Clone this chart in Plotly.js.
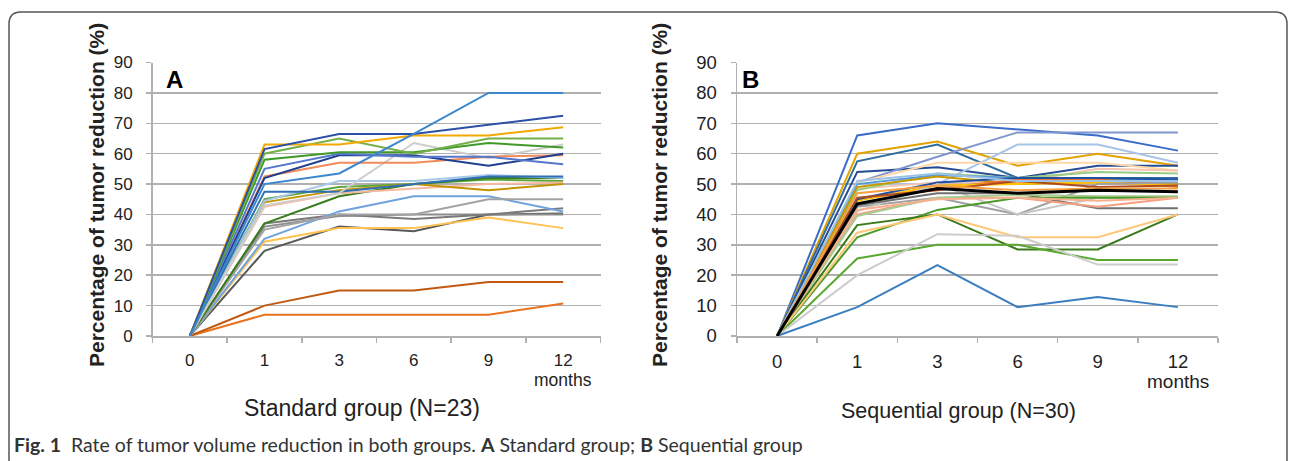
<!DOCTYPE html>
<html>
<head>
<meta charset="utf-8">
<script src="https://cdn.plot.ly/plotly-3.0.1.min.js"></script>
<style>
  html, body { margin: 0; padding: 0; background: #fff; }
  #chart { width: 1293px; height: 461px; }
</style>
</head>
<body>
<div id="chart"></div>
<script>
// ---- Data ----
const months = ['0', '1', '3', '6', '9', '12'];

// Standard group (N=23), % tumor reduction at 0,1,3,6,9,12 months
const stdA01 = [0, 50, 53.5, 66.5, 80, 80];
const stdA02 = [0, 61.5, 66.5, 66.5, 69.5, 72.5];
const stdA03 = [0, 63, 63, 66, 66, 68.7];
const stdA04 = [0, 60, 65, 60, 65, 65];
const stdA05 = [0, 58, 60.5, 60.5, 63.5, 62];
const stdA06 = [0, 55, 60, 59, 59, 56.5];
const stdA07 = [0, 52, 59.5, 59.5, 56, 60];
const stdA08 = [0, 52.5, 57, 57, 59, 59.5];
const stdA09 = [0, 43, 47, 63.5, 58.5, 63];
const stdA10 = [0, 47.5, 47.5, 50, 52.5, 52.5];
const stdA11 = [0, 44.5, 51, 51, 53, 52];
const stdA12 = [0, 44, 48, 50, 48, 50];
const stdA13 = [0, 42.5, 47, 48.5, 50, 50.5];
const stdA14 = [0, 37, 46, 50, 52, 52];
const stdA15 = [0, 35, 40, 40, 45, 45];
const stdA16 = [0, 32, 41, 46, 46, 41];
const stdA17 = [0, 37, 40, 38.5, 40, 42];
const stdA18 = [0, 36, 39.5, 40, 40, 40];
const stdA19 = [0, 31, 35.5, 35.5, 39, 35.5];
const stdA20 = [0, 28, 36, 34.5, 40, 40.3];
const stdA21 = [0, 10, 15, 15, 17.8, 17.8];
const stdA22 = [0, 7, 7, 7, 7, 10.7];
const stdA23 = [0, 45, 49, 50, 51.5, 51];
const stdColors = ['#3B87CC', '#2B50A8', '#F2A900', '#74B04A', '#3F9A2A', '#5577CC', '#1F3F8F',
  '#F28A5C', '#CDCDCD', '#2E6FB5', '#A9C8EA', '#C49400', '#F6B9A2', '#3A7D1E', '#A3A3A3',
  '#6FA3DE', '#7A7A7A', '#8C8C8C', '#FFC353', '#595959', '#C05A12', '#E8731F', '#5EA63C'];

// Sequential group (N=30)
const seqB01 = [0, 66, 70, 68, 66, 61];
const seqB02 = [0, 60, 64, 56, 60, 56];
const seqB03 = [0, 57.5, 63, 52, 52, 52];
const seqB04 = [0, 54, 55.5, 52, 56, 56];
const seqB05 = [0, 50.5, 59, 67, 67, 67];
const seqB06 = [0, 50, 50, 63, 63, 57];
const seqB07 = [0, 50.5, 57, 57, 57, 54.5];
const seqB08 = [0, 48.5, 50.5, 50.5, 55, 54.5];
const seqB09 = [0, 48, 53.5, 52, 54, 53.5];
const seqB10 = [0, 50, 53, 52, 51.5, 51.5];
const seqB11 = [0, 49, 52.5, 50, 51.5, 50];
const seqB12 = [0, 45, 48.5, 51.5, 51.5, 49];
const seqB13 = [0, 44.5, 49.5, 50, 50.5, 49.5];
const seqB14 = [0, 45, 50.5, 52, 52, 51.5];
const seqB15 = [0, 42.5, 45.5, 40, 50, 50.5];
const seqB16 = [0, 41, 50, 40, 45.5, 45.5];
const seqB17 = [0, 43, 47, 47, 42, 42];
const seqB18 = [0, 40, 45.5, 45.5, 42.5, 45.5];
const seqB19 = [0, 39.5, 45.5, 46.5, 46, 46];
const seqB20 = [0, 32.5, 41.5, 45.5, 45.5, 45.5];
const seqB21 = [0, 36.5, 40, 28.5, 28.5, 40];
const seqB22 = [0, 34, 40, 32.5, 32.5, 40];
const seqB23 = [0, 25.5, 30, 30, 25, 25];
const seqB24 = [0, 20, 33.5, 33, 23.5, 23.5];
const seqB25 = [0, 9.5, 23.3, 9.5, 12.8, 9.5];
const seqB26 = [0, 45.5, 48, 51, 49, 49.5];
const seqB27 = [0, 41.5, 45, 45.5, 44.5, 45.5];
const seqB28 = [0, 51, 53.5, 51, 51, 51];
const seqB29 = [0, 47, 49.5, 48, 48.5, 48.5];
const seqB30 = [0, 43.5, 48.5, 47, 48, 47.5];
const seqColors = ['#3A6CC8', '#E2A200', '#2F6E9F', '#264C96', '#8096D0', '#A8C4E8', '#FFD8A8',
  '#F8C4AC', '#98CC80', '#5B9BD5', '#C89800', '#F07030', '#FFC000', '#2050A0', '#A0A0A0',
  '#C8C8C8', '#707070', '#F4A080', '#A8CC90', '#4C9A2A', '#3A7A1A', '#FFC878', '#5BA830',
  '#CCCCCC', '#3A7EC0', '#B04A20', '#F6B090', '#9BC2E6', '#F5A040', '#000000'];

const yTicks = [0, 10, 20, 30, 40, 50, 60, 70, 80, 90];
const captionBold = 'Fig. 1';
const captionText = 'Rate of tumor volume reduction in both groups. <b>A</b> Standard group; <b>B</b> Sequential group';

// ---- Build traces ----
const stdSeries = [stdA01, stdA02, stdA03, stdA04, stdA05, stdA06, stdA07, stdA08, stdA09, stdA10,
  stdA11, stdA12, stdA13, stdA14, stdA15, stdA16, stdA17, stdA18, stdA19, stdA20, stdA21, stdA22, stdA23];
const seqSeries = [seqB01, seqB02, seqB03, seqB04, seqB05, seqB06, seqB07, seqB08, seqB09, seqB10,
  seqB11, seqB12, seqB13, seqB14, seqB15, seqB16, seqB17, seqB18, seqB19, seqB20, seqB21, seqB22,
  seqB23, seqB24, seqB25, seqB26, seqB27, seqB28, seqB29, seqB30];

const traces = [];
stdSeries.slice().reverse().forEach((s, ri) => {
  const i = stdSeries.length - 1 - ri;
  traces.push({x: months, y: s, type: 'scatter', mode: 'lines', xaxis: 'x', yaxis: 'y',
    line: {color: stdColors[i], width: 2}, showlegend: false, hoverinfo: 'skip'});
});
seqSeries.forEach((s, i) => {
  const isBlack = i === seqSeries.length - 1;
  traces.push({x: months, y: s, type: 'scatter', mode: 'lines', xaxis: 'x2', yaxis: 'y2',
    line: {color: seqColors[i], width: isBlack ? 3 : 2}, showlegend: false, hoverinfo: 'skip'});
});

const W = 1293, H = 461;
const px = v => v / W;
const py = v => 1 - v / H;
const FAM = 'Liberation Sans, Arial, sans-serif';

function xAxis(l, r, anchor, fs, standoff) {
  return {
    type: 'category', domain: [px(l), px(r)], anchor: anchor, range: [-0.5, 5.5],
    showgrid: false, zeroline: false, showline: true, linecolor: '#b0b0b0', linewidth: 2,
    ticks: 'outside', tickson: 'boundaries', ticklen: 5, tickcolor: '#b0b0b0', tickwidth: 1.5,
    ticklabelstandoff: standoff,
    tickfont: {family: FAM, size: fs, color: '#222'}, fixedrange: true
  };
}
function yAxis(anchor, fs) {
  return {
    domain: [py(336), py(62.5)], anchor: anchor, range: [0, 90], tickvals: yTicks,
    showgrid: true, gridcolor: '#b0b0b0', gridwidth: 1.5, zeroline: false,
    showline: true, linecolor: '#b0b0b0', linewidth: 1.5,
    ticks: 'outside', ticklen: 5, tickcolor: '#b0b0b0', tickwidth: 1.5,
    ticklabelstandoff: 10, tickfont: {family: FAM, size: fs, color: '#222'}, fixedrange: true
  };
}

const framePath = `M ${px(9)} ${py(461)} L ${px(9)} ${py(24)} Q ${px(9)} ${py(12)} ${px(21)} ${py(12)} ` +
  `L ${px(1275)} ${py(12)} Q ${px(1287)} ${py(12)} ${px(1287)} ${py(24)} L ${px(1287)} ${py(461)}`;

const titleFont = {family: FAM, size: 21, color: '#222'};
const layout = {
  width: W, height: H,
  margin: {l: 0, r: 0, t: 0, b: 0},
  paper_bgcolor: '#fff', plot_bgcolor: '#fff',
  showlegend: false,
  xaxis: xAxis(152.5, 600.5, 'y', 17, 8),
  yaxis: yAxis('x', 17),
  xaxis2: xAxis(737, 1218, 'y2', 18.5, 8),
  yaxis2: yAxis('x2', 18.5),
  shapes: [{type: 'path', xref: 'paper', yref: 'paper', path: framePath,
    line: {color: '#555', width: 1.5}, fillcolor: 'rgba(0,0,0,0)'}],
  annotations: [
    {text: '<b>A</b>', xref: 'paper', yref: 'paper', x: px(164), y: py(64), xanchor: 'left', yanchor: 'top',
      showarrow: false, font: {family: FAM, size: 24, color: '#000'}},
    {text: '<b>B</b>', xref: 'paper', yref: 'paper', x: px(740), y: py(64), xanchor: 'left', yanchor: 'top',
      showarrow: false, font: {family: FAM, size: 24, color: '#000'}},
    {text: '<b>Percentage of tumor reduction (%)</b>', xref: 'paper', yref: 'paper', x: px(96), y: py(195),
      textangle: -90, showarrow: false, xanchor: 'center', yanchor: 'middle', font: titleFont},
    {text: '<b>Percentage of tumor reduction (%)</b>', xref: 'paper', yref: 'paper', x: px(659), y: py(195),
      textangle: -90, showarrow: false, xanchor: 'center', yanchor: 'middle', font: titleFont},
    {text: 'months', xref: 'x', yref: 'paper', x: 5, y: py(380), showarrow: false,
      xanchor: 'center', yanchor: 'middle', font: {family: FAM, size: 17.5, color: '#222'}},
    {text: 'months', xref: 'x2', yref: 'paper', x: 5, y: py(381), showarrow: false,
      xanchor: 'center', yanchor: 'middle', font: {family: FAM, size: 19, color: '#222'}},
    {text: 'Standard group (N=23)', xref: 'paper', yref: 'paper', x: px(362), y: py(408), showarrow: false,
      xanchor: 'center', yanchor: 'middle', font: {family: FAM, size: 23, color: '#222'}},
    {text: 'Sequential group (N=30)', xref: 'paper', yref: 'paper', x: px(958), y: py(411), showarrow: false,
      xanchor: 'center', yanchor: 'middle', font: {family: FAM, size: 21.5, color: '#222'}},
    {text: '<b>' + captionBold + '</b>  ' + captionText, xref: 'paper', yref: 'paper', x: px(12), y: py(444),
      showarrow: false, xanchor: 'left', yanchor: 'middle',
      font: {family: 'Lato, Open Sans, sans-serif', size: 19.5, color: '#333'}}
  ]
};

Plotly.newPlot('chart', traces, layout, {staticPlot: true, displayModeBar: false});
</script>
</body>
</html>
